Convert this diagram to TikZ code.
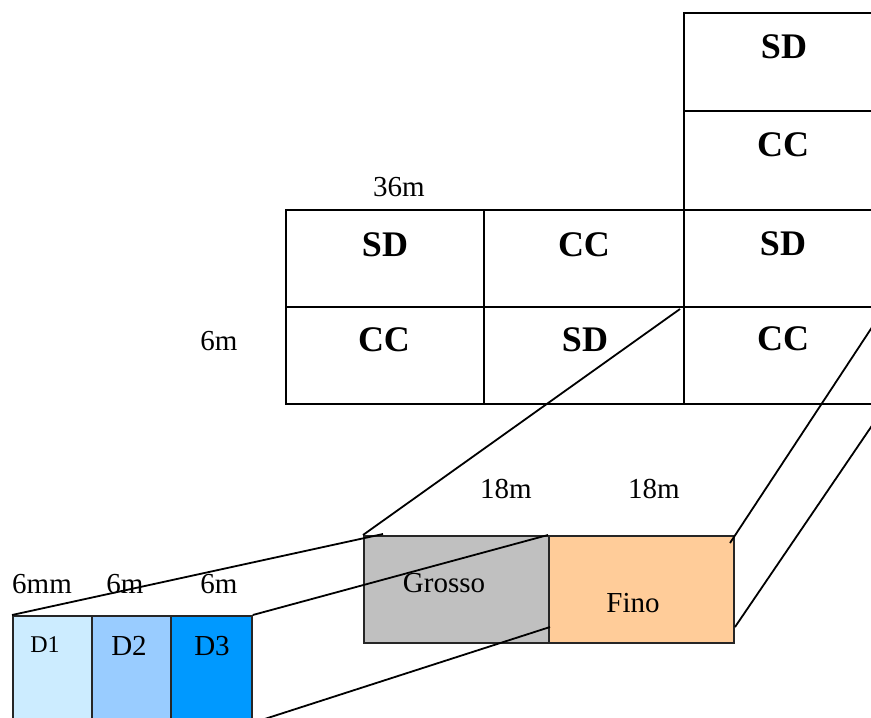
\documentclass[tikz,border=0pt]{standalone}
\usepackage{fontspec}
\setmainfont{Liberation Serif}
\definecolor{grossoc}{HTML}{C0C0C0}
\definecolor{finoc}{HTML}{FFCC99}
\definecolor{dA}{HTML}{CCECFF}
\definecolor{dB}{HTML}{99CCFF}
\definecolor{dC}{HTML}{0099FF}
\begin{document}
\begin{tikzpicture}[x=1pt,y=-1pt,
  cell/.style={draw, line width=2pt, anchor=north west, inner sep=0pt},
  box/.style={draw=black!85, line width=1.8pt, anchor=north west, inner sep=0pt},
  big/.style={font=\fontsize{36}{40}\selectfont\bfseries, inner sep=0pt},
  dim/.style={font=\fontsize{29}{32}\selectfont, inner sep=0pt},
  small/.style={font=\fontsize{24}{27}\selectfont, inner sep=0pt},
  zoomline/.style={line width=1.8pt}]
\useasboundingbox (0,0) rectangle (871,718);
\clip (0,0) rectangle (871,718);
% grid
\node[cell, minimum width=201pt, minimum height=98pt] (c0) at (683,12) {};
\node[cell, minimum width=201pt, minimum height=99pt] (c1) at (683,110) {};
\node[cell, minimum width=198pt, minimum height=97pt] (c2a) at (285,209) {};
\node[cell, minimum width=200pt, minimum height=97pt] (c2b) at (483,209) {};
\node[cell, minimum width=201pt, minimum height=97pt] (c2c) at (683,209) {};
\node[cell, minimum width=198pt, minimum height=97pt] (c3a) at (285,306) {};
\node[cell, minimum width=200pt, minimum height=97pt] (c3b) at (483,306) {};
\node[cell, minimum width=201pt, minimum height=97pt] (c3c) at (683,306) {};
% grid texts
\node[big] (t0) at (784,47) {SD};
\node[big] (t1) at (783,145) {CC};
\node[big] (t2a) at (385,245) {SD};
\node[big] (t2b) at (584,245) {CC};
\node[big] (t2c) at (783,244) {SD};
\node[big] (t3a) at (384,340) {CC};
\node[big] (t3b) at (585,340) {SD};
\node[big] (t3c) at (783,339) {CC};
\node[dim] (l36) at (399,187) {36m};
\node[dim] (l6) at (219,341) {6m};
% middle boxes
\node[box, fill=grossoc, minimum width=185pt, minimum height=107pt] (grosso) at (363,535) {};
\node[box, fill=finoc, minimum width=185pt, minimum height=107pt] (fino) at (548,535) {};
\node[dim] (tg) at (444,583) {Grosso};
\node[dim] (tf) at (633,603) {Fino};
\node[dim] (l18a) at (506,489) {18m};
\node[dim] (l18b) at (654,489) {18m};
% D boxes
\node[box, fill=dA, minimum width=79pt, minimum height=106pt] (d1) at (12,615) {};
\node[box, fill=dB, minimum width=79pt, minimum height=106pt] (d2) at (91,615) {};
\node[box, fill=dC, minimum width=81pt, minimum height=106pt] (d3) at (170,615) {};
\node[small] (td1) at (45,645) {D1};
\node[dim] (td2) at (129,646) {D2};
\node[dim] (td3) at (212,646) {D3};
\node[dim] (l6mm) at (42,584) {6mm};
\node[dim] (l6b) at (125,584) {6m};
\node[dim] (l6c) at (219,584) {6m};
% zoom lines
\coordinate (p1) at (680,309);
\coordinate (q1) at (730,543);
\coordinate (q2) at (735,627);
\coordinate (q3) at (383,534);
\coordinate (q4) at (550,627);
\draw[zoomline] (p1) -- (grosso.north west);
\draw[zoomline] (c3c.north east) -- (q1);
\draw[zoomline] (c3c.south east) -- (q2);
\draw[zoomline] (d1.north west) -- (q3);
\draw[zoomline] (d3.north east) -- (fino.north west);
\draw[zoomline] (d3.south east) -- (q4);
\end{tikzpicture}
\end{document}
